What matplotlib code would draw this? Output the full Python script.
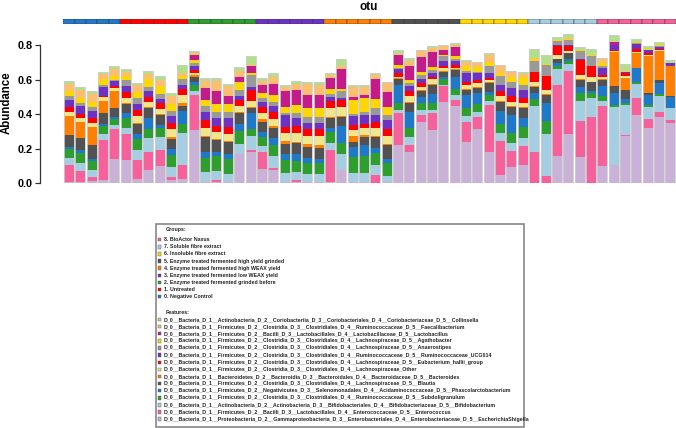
import numpy as np
import matplotlib
matplotlib.use("Agg")
import matplotlib.pyplot as plt
from matplotlib.patches import Rectangle

plt.rcParams["font.family"] = ["Liberation Sans", "DejaVu Sans"]

# --- data (abundance per sample, stacked bottom -> top) ---------------------
group_names = ["8. BioActor Naxus", "7. Soluble fibre extract", "6. Insoluble fibre extract",
               "5. Enzyme treated fermented high yield grinded",
               "4. Enzyme treated fermented high WEAX yield",
               "3. Enzyme treated fermented low WEAX yield",
               "2. Enzyme treated fermented grinded before",
               "1. Untreated", "0. Negative Control"]
group_sizes = [5, 6, 6, 6, 6, 6, 6, 6, 7]  # samples in group 0..8

escherichia = [.006, .006, .010, .016, .142, .136, .025, .074, .099, .019, .025, .307,
               .006, .006, .006, .171, .181, .084, .078, .006, .006, .006, .006, .006,
               .078, .006, .006, 0, .006, .219, .181, .355, .307, .470, .447, .239,
               .311, .181, .045, .093, .103, 0, 0, .155, .287, .151, 0, .097,
               .103, .272, .394, .322, .385, .350]
enterococcus = [.101, .062, .025, .233, .169, .148, .111, .107, .095, .014, .082, .204,
                0, .014, 0, 0, .010, .097, .012, 0, .010, 0, 0, .184,
                0, 0, 0, .045, 0, .188, .039, .039, .097, .091, .035, .117,
                .070, .272, .200, .093, .111, .181, .039, .414, .363, .210, .381, .352,
                0, .006, .097, .047, .029, .016]
bifidobacterium = [.041, .049, .043, .033, .025, .037, .058, .078, .074, .058, .186, .023,
                   .058, .050, .049, .058, .082, .033, .066, .052, .049, .049, .045, .043,
                   .093, .052, .052, .058, .033, .016, .049, .029, .023, .008, .029, .033,
                   .033, .025, .047, .047, .050, .266, .245, .091, .039, .117, .111, .029,
                   .336, .177, .087, .074, .091, .068]
subdoligranulum = [.049, .058, .050, .049, .035, .054, .064, .052, .052, .074, .047, .035,
                   .082, .085, .084, .074, .039, .054, .064, .074, .064, .062, .066, .064,
                   .064, .093, .097, .072, .078, .039, .049, .043, .039, .033, .033, .045,
                   .045, .033, .049, .058, .062, .039, .078, .019, .019, .047, .033, .029,
                   .016, .010, .010, .010, .012, 0]
phascolarctobacterium = [.014, .016, .014, .012, .014, .033, .029, .064, .019, .035, .078, .019,
                         .035, .025, .029, .039, .093, .029, .039, .039, .039, .029, .025, .025,
                         .097, .058, .064, .031, .025, .107, .097, .035, .054, .016, .070, .078,
                         .062, .019, .078, .103, .054, .035, .105, .016, .010, .035, .012, .054,
                         .068, .025, .078, .058, .062, .064]
blautia = [.068, .068, .078, .062, .049, .050, .058, .058, .054, .058, .027, .029,
           .087, .068, .068, .062, .029, .058, .058, .058, .062, .064, .064, .058,
           .049, .029, .049, .062, .078, .033, .049, .033, .049, .029, .041, .029,
           .029, .052, .054, .049, .058, .035, .045, .023, .035, .039, .047, .039,
           .039, .052, .004, .010, .019, .008]
bacteroides = [.111, .097, .103, .074, .101, .008, .006, .006, .010, .008, .019, .010,
               .006, .006, .006, .006, .010, .014, .014, .016, .010, .019, .014, .006,
               .010, .033, .010, .006, .006, .006, .006, .006, .006, .006, .006, .006,
               .006, .006, .006, .006, .006, .006, .004, .004, .004, .004, .004, .004,
               .200, .068, .087, .217, .171, .171]
lachno_other = [.025, .023, .027, .019, .016, .025, .037, .033, .025, .045, .045, .014,
                .043, .043, .043, .035, .035, .035, .039, .047, .049, .043, .052, .052,
                .049, .039, .039, .043, .047, .010, .033, .019, .027, .014, .010, .023,
                .023, .010, .027, .023, .021, .027, .025, .021, .008, .025, .027, .012,
                .006, .010, .006, .004, .004, .004]
eubacterium = [.025, .021, .025, .010, .010, .039, .035, .029, .037, .037, .039, .016,
               .050, .035, .039, .039, .062, .035, .043, .035, .043, .039, .039, .039,
               .045, .025, .023, .039, .039, .023, .029, .023, .016, .014, .014, .019,
               .019, .010, .029, .033, .031, .058, .078, .052, .031, .087, .062, .012,
               .006, .019, .016, .012, .004, 0]
rumino_ucg014 = [.043, .047, .045, .049, .029, .033, .035, .033, .025, .043, .019, .023,
                 .047, .043, .054, .023, .016, .033, .035, .068, .043, .039, .039, .023,
                 .010, .052, .054, .039, .054, .019, .029, .025, .023, .025, .025, .049,
                 .039, .033, .035, .045, .043, 0, 0, .004, .004, .004, .004, .043,
                 .025, .004, .029, .016, .016, .019]
anaerostipes = [.023, .019, .023, .014, .010, .035, .033, .025, .029, .025, .039, .016,
                .031, .035, .035, .035, .072, .019, .023, .014, .029, .031, .031, .019,
                .039, .016, .019, .039, .029, .010, .019, .019, .016, .029, .010, .010,
                .010, .039, .049, .039, .029, .064, .064, .025, .029, .049, .054, .010,
                0, 0, .006, .004, .004, 0]
agathobacter = [.031, .025, .029, .033, .023, .023, .039, .043, .043, .045, .016, .019,
                .037, .049, .047, .047, .010, .033, .039, .035, .049, .052, .052, .029,
                .014, .082, .078, .052, .049, .014, .019, .019, .019, .010, .016, .029,
                .025, .025, .019, .029, .045, .010, .010, .004, .008, .006, .006, .019,
                .004, .004, .006, .004, .004, 0]
lactobacillus = [0, 0, 0, 0, 0, 0, 0, 0, 0, 0, 0, .029,
                 .068, .078, .045, .025, .039, .045, .068, .093, .087, .078, .078, .062,
                 .117, .016, .019, .117, .087, .058, .078, .087, .087, .029, .054, 0,
                 0, 0, 0, 0, 0, 0, 0, 0, 0, 0, 0, 0,
                 .014, 0, 0, 0, 0, 0]
faecalibacterium = [.037, .049, .045, .031, .039, .025, .039, .031, .039, .045, .016, .014,
                    .045, .058, .058, .039, .010, .025, .039, .019, .035, .064, .058, .016,
                    .017, .054, .049, .025, .052, .010, .029, .035, .019, .023, .014, .025,
                    .023, .039, .039, .029, .023, .006, 0, .004, .004, 0, 0, .019,
                    0, .006, 0, 0, 0, 0]
collinsella = [.016, .016, .016, .010, .016, .019, .014, .017, .021, .016, .045, .010,
               .014, .014, .014, .019, .052, .014, .025, .014, .016, .014, .019, .014,
               .039, .014, .010, .014, .006, .019, .019, .004, .014, .006, .010, .014,
               .010, .010, .010, .004, .010, .049, .052, .016, .025, .019, .037, .006,
               .045, .039, .014, .016, .016, .016]

feature_labels = [
    "D_0__Bacteria_D_1__Actinobacteria_D_2__Coriobacteriia_D_3__Coriobacteriales_D_4__Coriobacteriaceae_D_5__Collinsella",
    "D_0__Bacteria_D_1__Firmicutes_D_2__Clostridia_D_3__Clostridiales_D_4__Ruminococcaceae_D_5__Faecalibacterium",
    "D_0__Bacteria_D_1__Firmicutes_D_2__Bacilli_D_3__Lactobacillales_D_4__Lactobacillaceae_D_5__Lactobacillus",
    "D_0__Bacteria_D_1__Firmicutes_D_2__Clostridia_D_3__Clostridiales_D_4__Lachnospiraceae_D_5__Agathobacter",
    "D_0__Bacteria_D_1__Firmicutes_D_2__Clostridia_D_3__Clostridiales_D_4__Lachnospiraceae_D_5__Anaerostipes",
    "D_0__Bacteria_D_1__Firmicutes_D_2__Clostridia_D_3__Clostridiales_D_4__Ruminococcaceae_D_5__Ruminococcaceae_UCG014",
    "D_0__Bacteria_D_1__Firmicutes_D_2__Clostridia_D_3__Clostridiales_D_4__Lachnospiraceae_D_5__Eubacterium_hallii_group",
    "D_0__Bacteria_D_1__Firmicutes_D_2__Clostridia_D_3__Clostridiales_D_4__Lachnospiraceae_Other",
    "D_0__Bacteria_D_1__Bacteroidetes_D_2__Bacteroidia_D_3__Bacteroidales_D_4__Bacteroidaceae_D_5__Bacteroides",
    "D_0__Bacteria_D_1__Firmicutes_D_2__Clostridia_D_3__Clostridiales_D_4__Lachnospiraceae_D_5__Blautia",
    "D_0__Bacteria_D_1__Firmicutes_D_2__Negativicutes_D_3__Selenomonadales_D_4__Acidaminococcaceae_D_5__Phascolarctobacterium",
    "D_0__Bacteria_D_1__Firmicutes_D_2__Clostridia_D_3__Clostridiales_D_4__Ruminococcaceae_D_5__Subdoligranulum",
    "D_0__Bacteria_D_1__Actinobacteria_D_2__Actinobacteria_D_3__Bifidobacteriales_D_4__Bifidobacteriaceae_D_5__Bifidobacterium",
    "D_0__Bacteria_D_1__Firmicutes_D_2__Bacilli_D_3__Lactobacillales_D_4__Enterococcaceae_D_5__Enterococcus",
    "D_0__Bacteria_D_1__Proteobacteria_D_2__Gammaproteobacteria_D_3__Enterobacteriales_D_4__Enterobacteriaceae_D_5__EscherichiaShigella",
]

# colours
feature_colors = ["#b2df8a", "#fdbf6f", "#c51b8a", "#ffd700", "#999999", "#6d32c4", "#ff0000",
                  "#f0e68c", "#ff7f00", "#525252", "#1f78c8", "#2e9e2e", "#a6cee3", "#f7619b",
                  "#c9b1d8"]
group_colors = ["#1f78c8", "#ff0000", "#2e9e2e", "#6d32c4", "#ff7f00", "#525252",
                "#ffd700", "#a6cee3", "#f7619b"]

# stack order bottom -> top (reverse of legend)
stack = [escherichia, enterococcus, bifidobacterium, subdoligranulum, phascolarctobacterium,
         blautia, bacteroides, lachno_other, eubacterium, rumino_ucg014, anaerostipes,
         agathobacter, lactobacillus, faecalibacterium, collinsella]
stack_colors = feature_colors[::-1]

W, H = 676, 428
def fx(px):
    return px / W
def fy(py):
    return 1 - py / H

fig = plt.figure(figsize=(W / 100, H / 100), dpi=100)

# --- main stacked bars ---
n = len(escherichia)
x = np.arange(n)
x0, x1 = 63.3, 676.0
ax = fig.add_axes([fx(x0), fy(183), fx(x1) - fx(x0), 154.9 / H])
bottom = np.zeros(n)
for vals, c in zip(stack, stack_colors):
    vals = np.array(vals)
    ax.bar(x, vals, 0.88, bottom=bottom, color=c, linewidth=0)
    bottom += vals
ax.bar(x, bottom, 0.88, fill=False, edgecolor="#cdcdcd", linewidth=0.6)
ax.set_xlim(-0.5, n - 0.5)
ax.set_ylim(0, 0.9)
for s in ["top", "right", "bottom"]:
    ax.spines[s].set_visible(False)
ax.spines["left"].set_position(("outward", 16.5))
ax.spines["left"].set_bounds(0, 0.8)
ax.spines["left"].set_color("#333333")
ax.spines["left"].set_linewidth(0.9)
ax.set_xticks([])
ax.set_yticks([0, 0.2, 0.4, 0.6, 0.8])
ax.set_yticklabels(["0.0", "0.2", "0.4", "0.6", "0.8"], fontsize=7.8, fontweight="bold")
ax.tick_params(axis="y", length=3.6, width=0.9, pad=2, color="#333333")
fig.text(fx(6.5), fy(103), "Abundance", rotation=90, ha="center", va="center",
         fontsize=8.3, fontweight="bold")

# --- group colour strip ---
sample_group = np.repeat(np.arange(len(group_sizes)), group_sizes)
axs = fig.add_axes([fx(x0), fy(24), fx(x1) - fx(x0), 4.7 / H])
axs.bar(x, np.ones(n), 1.0, color=[group_colors[g] for g in sample_group],
        edgecolor="#3a3a3a", linewidth=0.35)
axs.set_xlim(-0.5, n - 0.5)
axs.set_ylim(0, 1)
axs.axis("off")
fig.text(fx(369), fy(6.5), "otu", ha="center", va="center", fontsize=8.5, fontweight="bold")

# --- legend box ---
box_l, box_r, box_t, box_b = 156, 524, 224, 427
fig.patches.append(Rectangle((fx(box_l), fy(box_b)), fx(box_r) - fx(box_l), (box_b - box_t) / H,
                             transform=fig.transFigure, fill=False, edgecolor="#888888",
                             linewidth=1.2))

LEG_FS = 3.75

def legend_row(ypx, color, label):
    fig.patches.append(Rectangle((fx(157.5), fy(ypx + 1.7)), 3.4 / W, 3.4 / H,
                                 transform=fig.transFigure, facecolor=color,
                                 edgecolor="#555555", linewidth=0.3))
    fig.text(fx(163.5), fy(ypx), label, ha="left", va="center", fontsize=LEG_FS,
             fontweight="bold", color="#222222")

fig.text(fx(166), fy(230), "Groups:", ha="left", va="center", fontsize=LEG_FS,
         fontweight="bold", color="#222222")
for i, name in enumerate(group_names):
    legend_row(239.7 + i * 7.12, group_colors[::-1][i], name)

fig.text(fx(166), fy(312), "Features:", ha="left", va="center", fontsize=LEG_FS,
         fontweight="bold", color="#222222")
for i, lab in enumerate(feature_labels):
    legend_row(319.5 + i * 7.12, feature_colors[i], lab)

fig.savefig("out.png", dpi=100)
